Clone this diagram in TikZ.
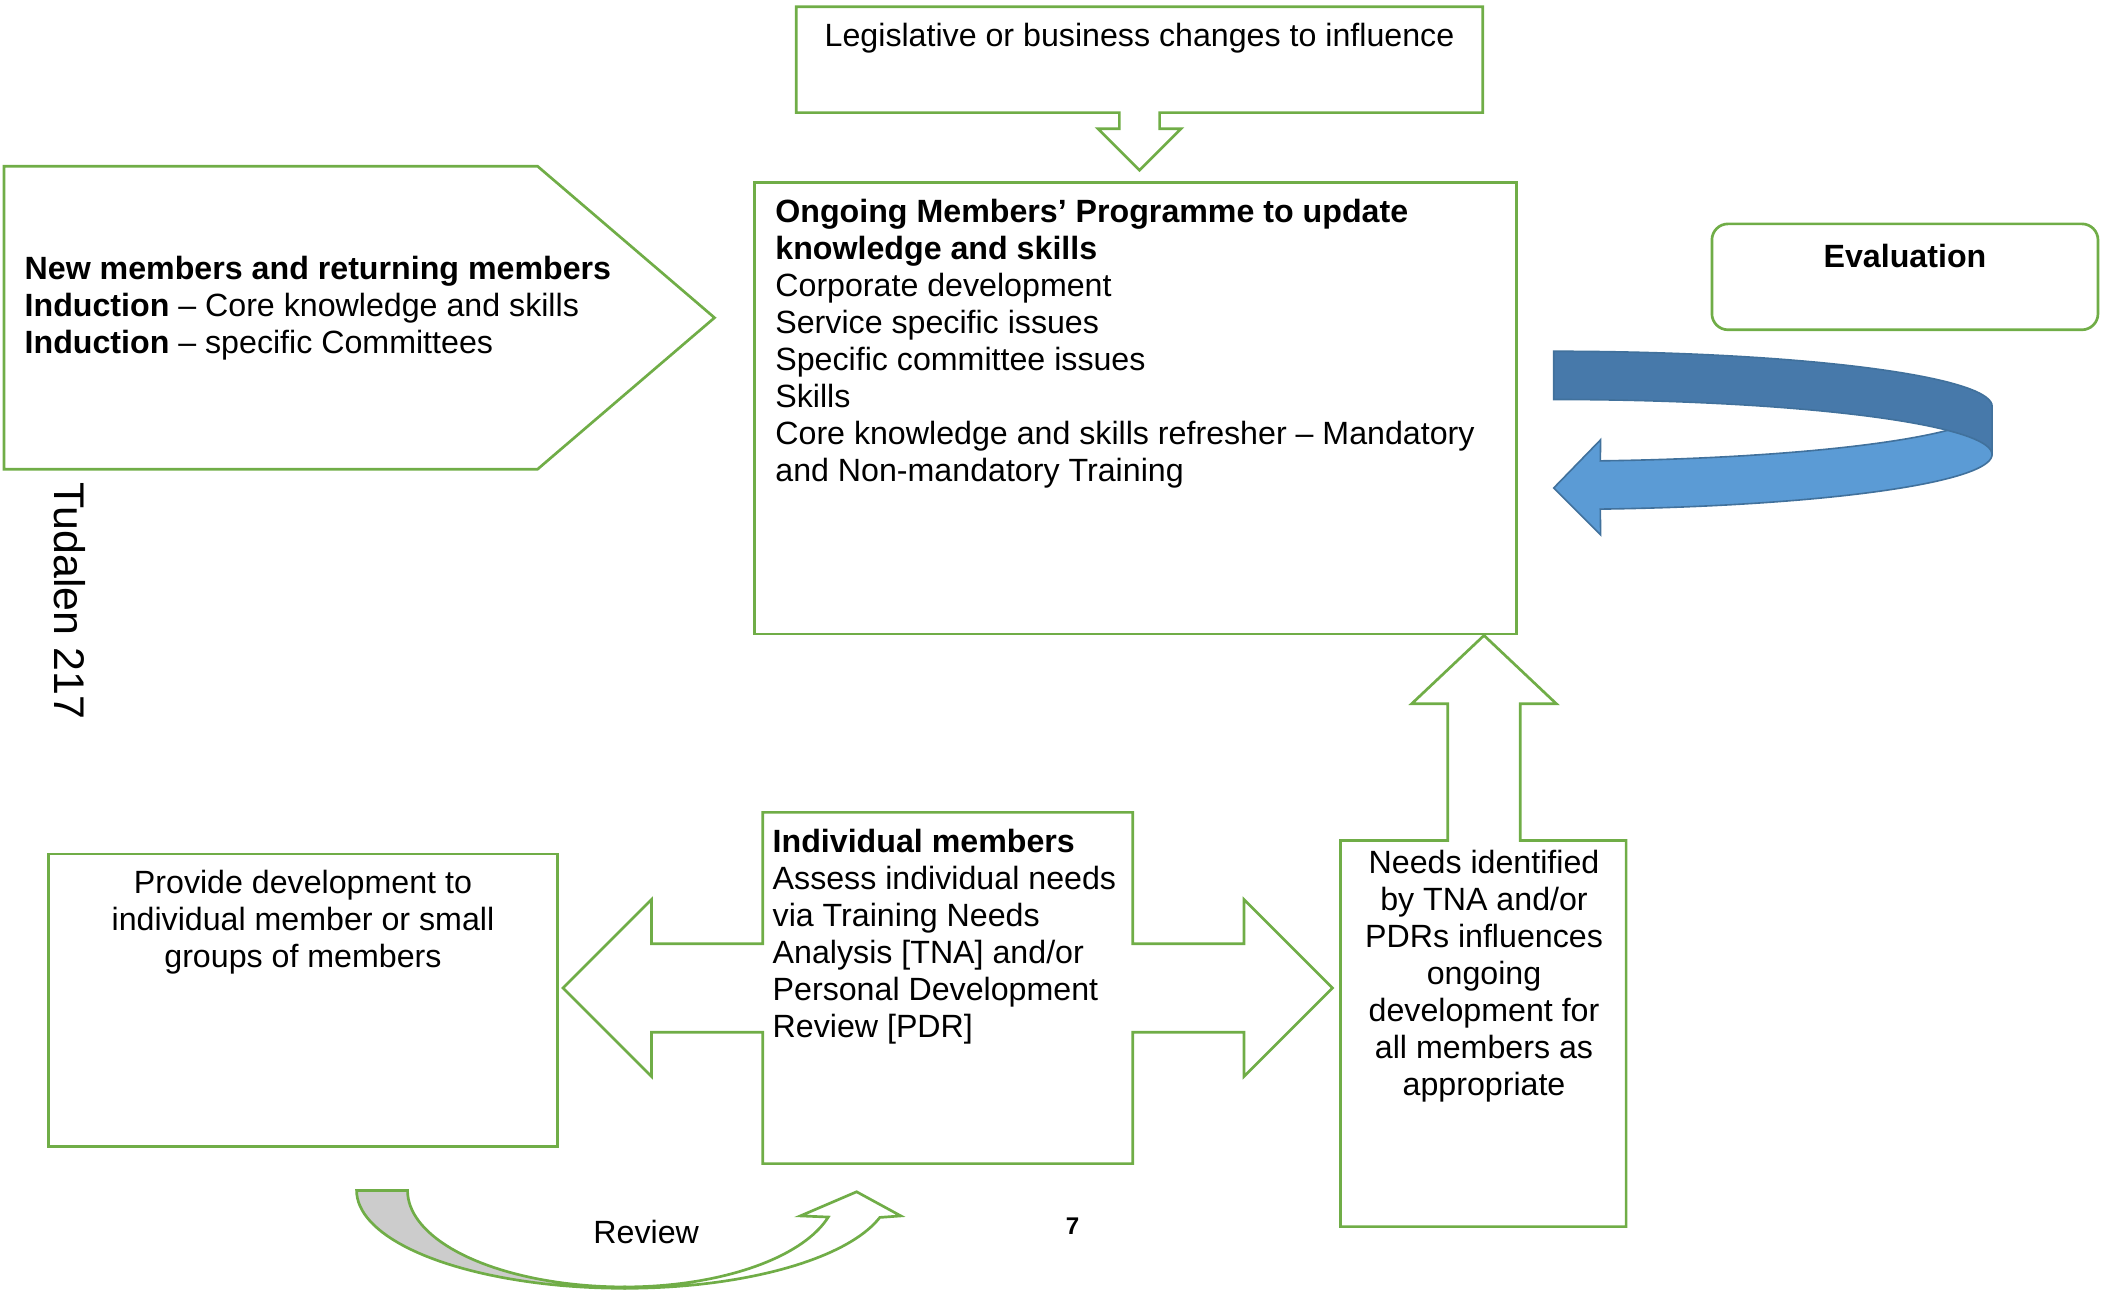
\documentclass[tikz,border=0pt]{standalone}
\usepackage{fontspec}
\setmainfont{Liberation Sans}
\usetikzlibrary{positioning}
\definecolor{boxgreen}{HTML}{70AD47}
\definecolor{loopfront}{HTML}{5B9BD5}
\definecolor{loopback}{HTML}{4779AA}
\definecolor{loopedge}{HTML}{41719C}
\definecolor{reviewgrey}{HTML}{CCCCCC}
\newcommand{\twelve}{\fontsize{12}{13.8}\selectfont}

\begin{document}
\begin{tikzpicture}[x=0.5pt,y=-0.5pt,
    greenline/.style={draw=boxgreen,line width=1pt,line join=miter},
    lefttext/.style={inner sep=0pt,anchor=north west,align=left,font=\twelve},
    midtext/.style={inner sep=0pt,anchor=north,align=center,font=\twelve}]
    \useasboundingbox (0,0) rectangle (1568,965);

    % Top box with down arrow
    \draw[greenline] (594,5) -- (1106,5) -- (1106,84) -- (865,84) -- (865,96)
        -- (881,96) -- (850,127) -- (819,96) -- (835,96) -- (835,84) -- (594,84) -- cycle;
    \node[midtext] (legis) at (850,15) {\strut Legislative or business changes to influence};

    % Induction pentagon
    \draw[greenline] (3,124) -- (401,124) -- (533,237) -- (401,350) -- (3,350) -- cycle;
    \node[lefttext] (induct) at (18,189) {\strut\textbf{New members and returning members}\\
        \textbf{Induction} – Core knowledge and skills\\
        \textbf{Induction} – specific Committees};

    % Ongoing programme
    \draw[greenline] (563,136) rectangle (1131,473);
    \node[lefttext] (ongoing) at (578,146) {\strut\textbf{Ongoing Members’ Programme to update}\\
        \textbf{knowledge and skills}\\
        Corporate development\\
        Service specific issues\\
        Specific committee issues\\
        Skills\\
        Core knowledge and skills refresher – Mandatory\\
        and Non-mandatory Training};

    % Evaluation
    \draw[greenline,rounded corners=6pt] (1277,167) rectangle (1565,246);
    \node[midtext] (eval) at (1421,180) {\strut\textbf{Evaluation}};

    % Evaluation loop (front part first, back part over it)
    \filldraw[fill=loopfront,draw=loopedge,line width=0.6pt]
        plot[domain=0:83.9,samples=40] ({1159+327*cos(\x)},{303+41*sin(\x)})
        -- (1194,328) -- (1159,364) -- (1194,399)
        -- plot[domain=83.9:0,samples=40] ({1159+327*cos(\x)},{339+41*sin(\x)}) -- cycle;
    \filldraw[fill=loopback,draw=loopedge,line width=0.6pt]
        plot[domain=-90:0,samples=40] ({1159+327*cos(\x)},{303+41*sin(\x)})
        -- plot[domain=0:-90,samples=40] ({1159+327*cos(\x)},{339+41*sin(\x)}) -- cycle;

    % Tudalen
    \node[rotate=-90,inner sep=0pt,font=\fontsize{16}{18}\selectfont] (page) at (52,448) {Tudalen 217};

    % Provide development
    \draw[greenline] (36,637) rectangle (416,855);
    \node[midtext] (provide) at (226,647) {\strut Provide development to\\
        individual member or small\\ groups of members};

    % Individual members with double arrow
    \draw[greenline] (569,606) -- (845,606) -- (845,704) -- (928,704) -- (928,671)
        -- (994,737) -- (928,803) -- (928,770) -- (845,770) -- (845,868) -- (569,868)
        -- (569,770) -- (486,770) -- (486,803) -- (420,737) -- (486,671) -- (486,704)
        -- (569,704) -- cycle;
    \node[lefttext] (indiv) at (576,616) {\strut\textbf{Individual members}\\
        Assess individual needs\\ via Training Needs\\ Analysis [TNA] and/or\\
        Personal Development\\ Review [PDR]};

    % Needs identified with up arrow
    \draw[greenline] (1000,627) -- (1080,627) -- (1080,525) -- (1053,525) -- (1107,474)
        -- (1161,525) -- (1134,525) -- (1134,627) -- (1213,627) -- (1213,915)
        -- (1000,915) -- cycle;
    \node[midtext] (needs) at (1107,632) {\strut Needs identified\\ by TNA and/or\\
        PDRs influences\\ ongoing\\ development for\\ all members as\\ appropriate};

    % Review arrow
    \filldraw[greenline,fill=white]
        plot[domain=90:16,samples=40] ({466+198*cos(\x)},{888+73*sin(\x)})
        -- (672,907) -- (639,889) -- (597,907)
        -- plot[domain=16:90,samples=40] ({466+158*cos(\x)},{888+72*sin(\x)}) -- cycle;
    \filldraw[greenline,fill=reviewgrey]
        plot[domain=180:90,samples=40] ({466+200*cos(\x)},{888+73*sin(\x)})
        -- plot[domain=90:180,samples=40] ({466+162*cos(\x)},{888+72*sin(\x)}) -- cycle;
    \node[font=\twelve,inner sep=0pt] (review) at (482,919) {Review};

    % Page number
    \node[font=\fontsize{9}{11}\selectfont\bfseries,inner sep=0pt] (pnum) at (800,915) {7};
\end{tikzpicture}
\end{document}
